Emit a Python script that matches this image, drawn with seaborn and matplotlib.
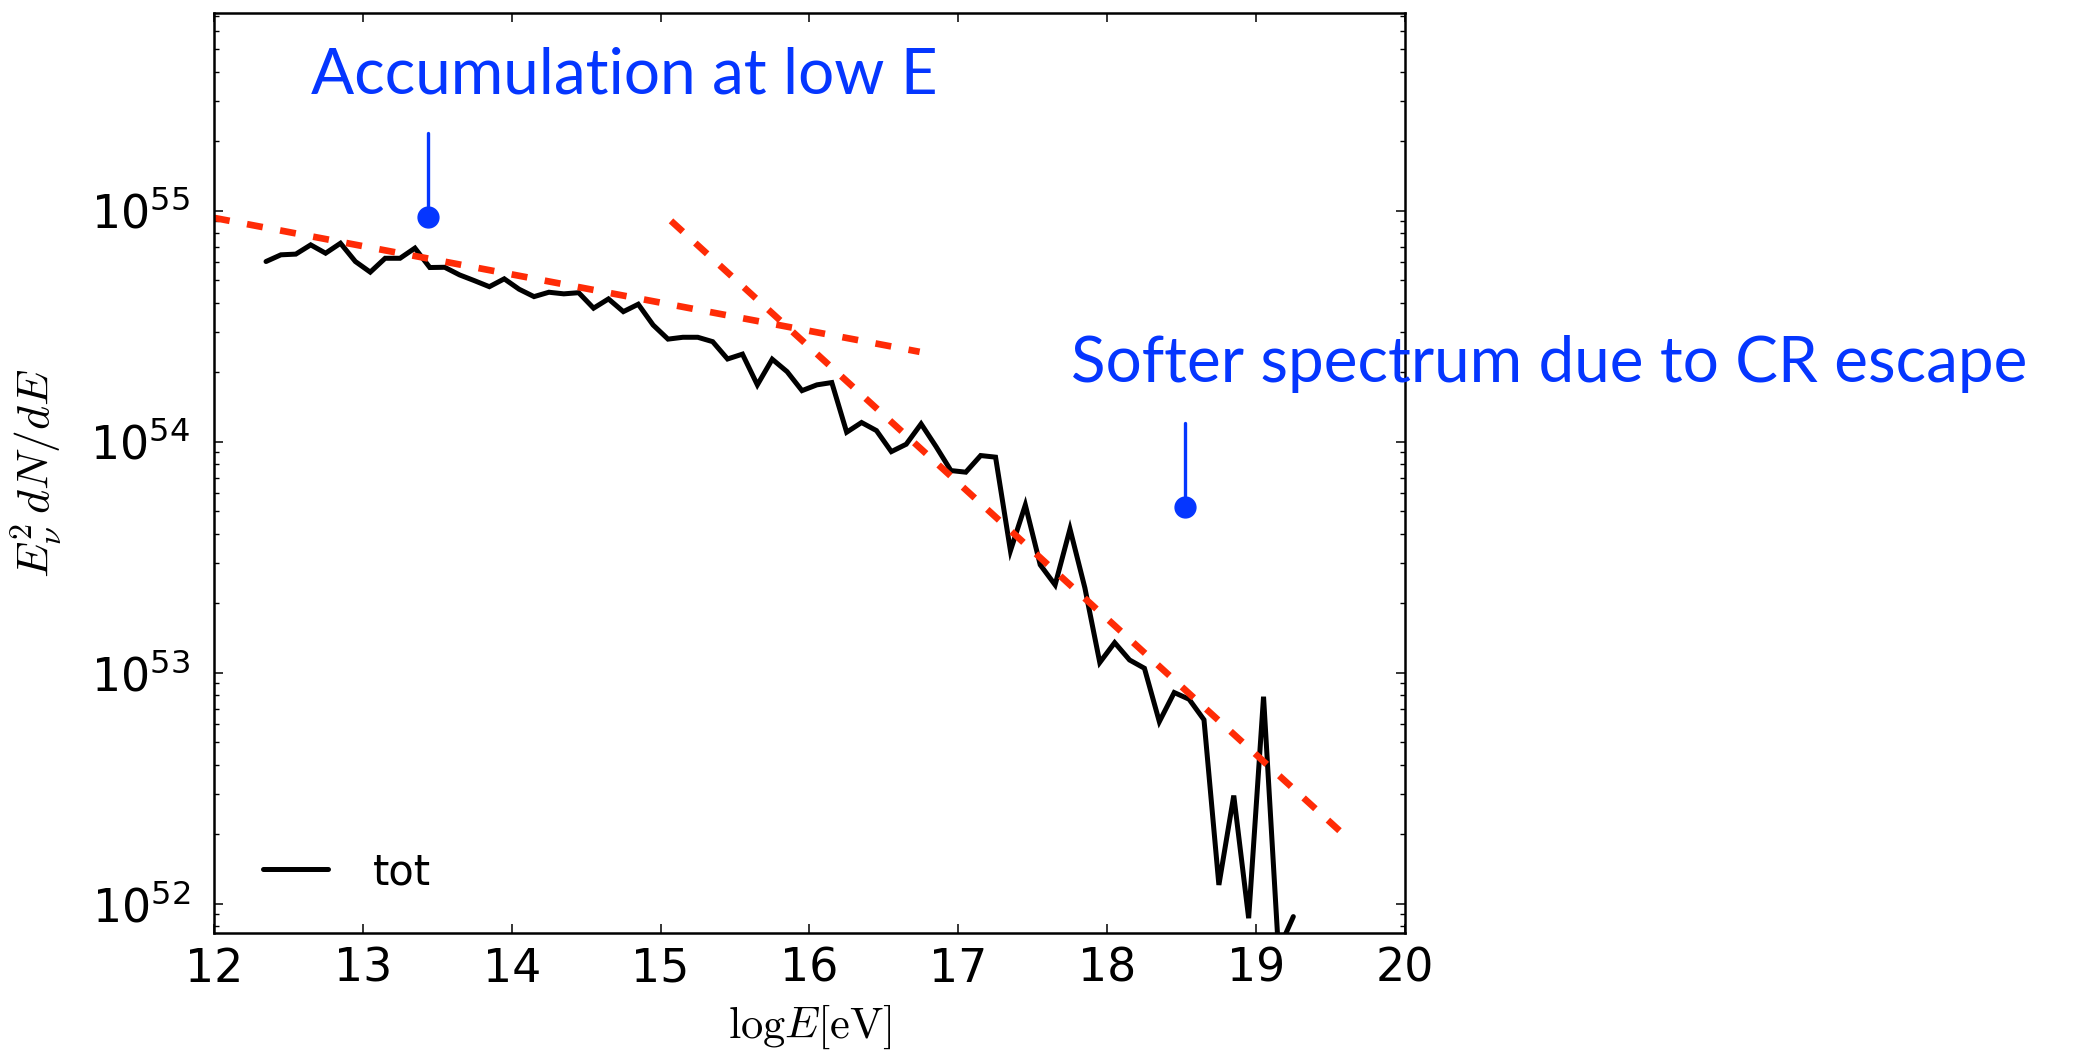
import numpy as np
import pandas as pd
import matplotlib
matplotlib.use("Agg")
import matplotlib.pyplot as plt
import seaborn as sns
from matplotlib.ticker import LogLocator, NullFormatter, FixedLocator

# ---------------- data ----------------
log_energy = [12.35, 12.45, 12.55, 12.65, 12.75, 12.85, 12.95, 13.05, 13.15, 13.25,
              13.35, 13.45, 13.55, 13.65, 13.75, 13.85, 13.95, 14.05, 14.15, 14.25,
              14.35, 14.45, 14.55, 14.65, 14.75, 14.85, 14.95, 15.05, 15.15, 15.25,
              15.35, 15.45, 15.55, 15.65, 15.75, 15.85, 15.95, 16.05, 16.15, 16.25,
              16.35, 16.45, 16.55, 16.65, 16.75, 16.85, 16.95, 17.05, 17.15, 17.25,
              17.35, 17.45, 17.55, 17.65, 17.75, 17.85, 17.95, 18.05, 18.15, 18.25,
              18.35, 18.45, 18.55, 18.65, 18.75, 18.85, 18.95, 19.05, 19.15, 19.25]
# log10 of E^2 dN/dE for the "tot" curve
log_flux_tot = [54.781, 54.810, 54.813, 54.853, 54.817, 54.860, 54.781, 54.735, 54.795, 54.795,
                54.839, 54.755, 54.756, 54.723, 54.698, 54.672, 54.706, 54.661, 54.629, 54.648,
                54.641, 54.646, 54.579, 54.619, 54.564, 54.596, 54.506, 54.445, 54.453, 54.453,
                54.434, 54.359, 54.380, 54.247, 54.358, 54.304, 54.222, 54.247, 54.257, 54.042,
                54.084, 54.049, 53.958, 53.990, 54.078, 53.980, 53.876, 53.869, 53.941, 53.934,
                53.529, 53.727, 53.468, 53.381, 53.623, 53.368, 53.045, 53.131, 53.056, 53.020,
                52.789, 52.915, 52.886, 52.797, 52.082, 52.469, 51.938, 52.897, 51.800, 51.945]

# power-law guide lines (end points: log E, log10 flux)
fit_low_x = [12.0, 16.74]
fit_low_logy = [54.970, 54.390]
fit_high_x = [15.07, 19.56]
fit_high_logy = [54.957, 52.317]

x_ticks = [12, 13, 14, 15, 16, 17, 18, 19, 20]
legend_label = "tot"
note_low = "Accumulation at low E"
note_high = "Softer spectrum due to CR escape"

# ---------------- style ----------------
sns.set_theme(style="ticks")
plt.rcParams.update({
    "font.family": ["DejaVu Sans"],
    "mathtext.fontset": "dejavusans",
    "axes.edgecolor": "black",
    "axes.linewidth": 1.8,
    "xtick.color": "black",
    "ytick.color": "black",
    "text.color": "black",
    "axes.labelcolor": "black",
    "xtick.direction": "in",
    "ytick.direction": "in",
    "xtick.top": True,
    "ytick.right": True,
    "xtick.major.size": 6.5,
    "ytick.major.size": 6.5,
    "ytick.minor.size": 3.5,
    "xtick.major.width": 1.1,
    "ytick.major.width": 1.1,
    "ytick.minor.width": 1.0,
    "lines.solid_joinstyle": "miter",
    "lines.dash_capstyle": "butt",
})

red = "#FF2B06"
blue = "#0536FF"
black_lw = 3.6
red_lw = 4.8

fig = plt.figure(figsize=(20.83, 10.54), dpi=100)
ax = fig.add_axes([0.1027, 0.1148, 0.5718, 0.8729])
ax.set_yscale("log")

df_tot = pd.DataFrame({"logE": log_energy, "flux": 10.0 ** np.array(log_flux_tot)})
sns.lineplot(data=df_tot, x="logE", y="flux", color="black",
             label=legend_label, ax=ax, sort=False, estimator=None)
tot_line = ax.lines[-1]
tot_line.set_linewidth(black_lw)

for xs, ys, pattern in [(fit_low_x, fit_low_logy, (2.4, 2.65)),
                        (fit_high_x, fit_high_logy, (2.4, 2.54))]:
    df_fit = pd.DataFrame({"logE": xs, "flux": 10.0 ** np.array(ys)})
    sns.lineplot(data=df_fit, x="logE", y="flux", color=red, ax=ax, sort=False,
                 estimator=None, legend=False)
    fit_line = ax.lines[-1]
    fit_line.set_linewidth(red_lw)
    fit_line.set_linestyle((0, pattern))

ax.set_xlim(12, 20)
ax.set_ylim(10 ** 51.874, 10 ** 55.857)
ax.xaxis.set_major_locator(FixedLocator(x_ticks))
ax.yaxis.set_major_locator(LogLocator(base=10, numticks=20))
ax.yaxis.set_minor_locator(LogLocator(base=10, subs=np.arange(2, 10), numticks=20))
ax.yaxis.set_minor_formatter(NullFormatter())
ax.tick_params(axis="x", which="major", labelsize=33, pad=10)
ax.tick_params(axis="y", which="major", labelsize=33, pad=17)
ax.tick_params(axis="x", which="minor", bottom=False, top=False)

ax.set_xlabel(r"$\mathrm{log}E[\mathrm{eV}]$", fontsize=32, math_fontfamily="cm")
ax.set_ylabel(r"$E_\nu^2\, dN/dE$", fontsize=33, math_fontfamily="cm")
ax.xaxis.set_label_coords(0.5, -0.076)
ax.yaxis.set_label_coords(-0.126, 0.5)

leg = ax.legend(loc="center left", bbox_to_anchor=(0.0411, 0.0663), frameon=False,
                fontsize=30, handlelength=1.56, handletextpad=1.08, borderpad=0,
                borderaxespad=0)
for h in leg.get_lines():
    h.set_linewidth(black_lw)

# annotations
ax.text(12.654, 10 ** 55.51, note_low, color=blue, fontsize=46, family="Lato",
        ha="left", va="baseline", clip_on=False)
ax.plot([13.435, 13.435], [10 ** 55.338, 10 ** 54.975], color=blue, lw=2.4, clip_on=False)
ax.plot([13.435], [10 ** 54.975], "o", ms=15, color=blue, clip_on=False)

ax.text(17.758, 10 ** 54.26, note_high, color=blue, fontsize=46, family="Lato",
        ha="left", va="baseline", clip_on=False)
ax.plot([18.52, 18.52], [10 ** 54.081, 10 ** 53.717], color=blue, lw=2.4, clip_on=False)
ax.plot([18.52], [10 ** 53.717], "o", ms=15, color=blue, clip_on=False)

fig.savefig("out.png", dpi=100)
